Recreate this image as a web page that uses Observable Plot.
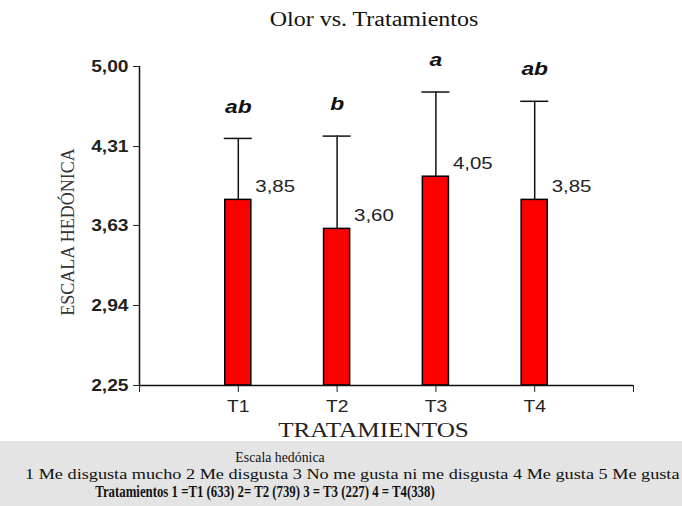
<!DOCTYPE html>
<html><head><meta charset="utf-8">
<script src="https://cdn.jsdelivr.net/npm/d3@7"></script>
<script src="https://cdn.jsdelivr.net/npm/@observablehq/plot@0.6"></script>
<style>
body{margin:0;background:#fff;width:682px;height:506px;overflow:hidden}
#title{height:36px;position:relative;font-family:"Liberation Serif","Times New Roman",serif;font-size:20px;color:#111}
#title span{position:absolute;left:374px;top:7px;transform:translateX(-50%) scaleX(1.2);white-space:nowrap;line-height:24px}
#chart{height:405px}
#chart svg{display:block}
#caption{height:65px;background:#e4e4e4;overflow:hidden;position:relative;font-family:"Liberation Serif","Times New Roman",serif;font-size:15px;color:#111}
#caption span{position:absolute;white-space:nowrap;line-height:18px}
#l1{left:280px;top:7px;transform:translateX(-50%) scaleX(0.92)}
#l2{left:25px;top:24px;transform-origin:0 0;transform:scaleX(1.215)}
#l3{left:265px;top:42px;transform:translateX(-50%) scaleX(0.8);font-weight:bold;font-size:16px}
</style>
</head><body>
<div id="title"><span>Olor vs. Tratamientos</span></div>
<div id="chart"></div>
<div id="caption">
<span id="l1">Escala hedónica</span>
<span id="l2">1 Me disgusta mucho 2 Me disgusta 3 No me gusta ni me disgusta 4 Me gusta 5 Me gusta</span>
<span id="l3">Tratamientos 1 =T1 (633) 2= T2 (739) 3 = T3 (227) 4 = T4(338)</span>
</div>
<script>
const categories = ["T1", "T2", "T3", "T4"];
const means = [3.85, 3.60, 4.05, 3.85];
const upperBars = [4.38, 4.40, 4.78, 4.70];
const letters = ["ab", "b", "a", "ab"];
const yTicks = [2.25, 2.94, 3.63, 4.31, 5.00];

const data = categories.map((c, i) => ({cat: c, pos: i + 1, mean: means[i], upper: upperBars[i], letter: letters[i]}));
const halfBar = 0.132, halfCap = 0.142;
const comma = v => v.toFixed(2).replace(".", ",");
const serif = "'Liberation Serif', 'Times New Roman', serif";

const plot = Plot.plot({
  width: 682, height: 405,
  marginTop: 30, marginBottom: 56, marginLeft: 139, marginRight: 49,
  style: {fontFamily: "'Liberation Sans', Arial, sans-serif", fontSize: "16px", color: "#222", background: "white", overflow: "visible"},
  x: {domain: [0, 5], ticks: [0, 1, 2, 3, 4, 5], tickFormat: v => categories[v - 1] ?? "", tickSize: 7, tickPadding: 8, label: null},
  y: {domain: [2.25, 5], ticks: yTicks, tickFormat: comma, tickSize: 6, tickPadding: 5, label: null},
  marks: [
    Plot.rectY(data, {x1: d => d.pos - halfBar, x2: d => d.pos + halfBar, y1: 2.25, y2: "mean", fill: "#ff0000", stroke: "#000", strokeWidth: 1.5}),
    Plot.ruleX(data, {x: "pos", y1: "mean", y2: "upper", stroke: "#111", strokeWidth: 1.5}),
    Plot.ruleY(data, {y: "upper", x1: d => d.pos - halfCap, x2: d => d.pos + halfCap, stroke: "#111", strokeWidth: 1.5}),
    Plot.text(data, {x: "pos", y: "mean", text: d => comma(d.mean), dx: 17, dy: -13, textAnchor: "start", fontSize: 17, fill: "#222"}),
    Plot.text(data, {x: "pos", y: "upper", text: "letter", dy: -32, fontSize: 19, fontWeight: "bold", fontStyle: "italic", fill: "#111"}),
    Plot.ruleX([0], {stroke: "#111", strokeWidth: 1.5}),
    Plot.ruleY([2.25], {stroke: "#111", strokeWidth: 1.5}),
    Plot.text(["ESCALA HEDÓNICA"], {frameAnchor: "left", textAnchor: "middle", rotate: -90, dx: -71, dy: 6, fontFamily: serif, fontSize: 18, fill: "#333"}),
    Plot.text(["TRATAMIENTOS"], {frameAnchor: "bottom", dy: 51, dx: -13, fontFamily: serif, fontSize: 21, fill: "#222"})
  ]
});
document.getElementById("chart").appendChild(plot);
// bold y tick labels as in the original
plot.querySelectorAll('[aria-label="y-axis tick label"] text').forEach(t => t.setAttribute("font-weight", "bold"));
// emulate the horizontally stretched lettering of the original
plot.querySelectorAll("text").forEach(t => {
  const tr = t.getAttribute("transform") || "";
  if (tr.includes("rotate")) return;
  const L = t.getComputedTextLength();
  if (L > 0) { t.setAttribute("textLength", L * 1.2); t.setAttribute("lengthAdjust", "spacingAndGlyphs"); }
});
</script>
</body></html>
